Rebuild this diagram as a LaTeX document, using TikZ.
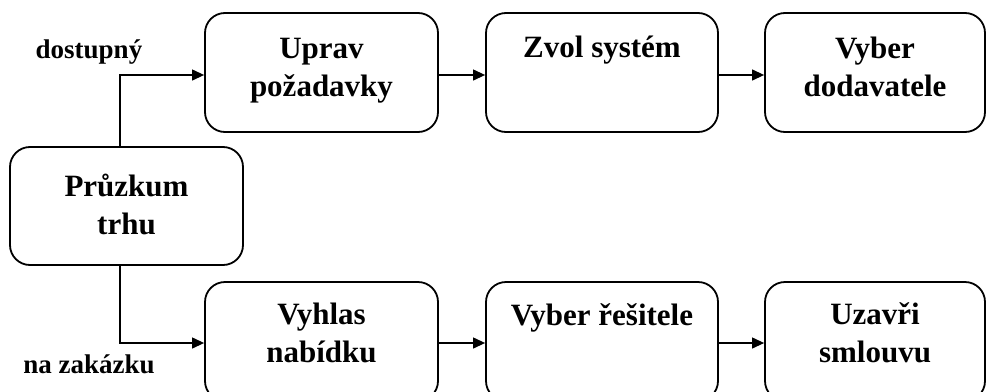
\documentclass[tikz,border=0pt]{standalone}
\usepackage{fontspec}
\setmainfont{Liberation Serif}
\usetikzlibrary{arrows.meta,calc}
\tikzset{
  stepbox/.style={draw, line width=1.8pt, rounded corners=20pt, inner sep=0pt},
  boxtext/.style={inner sep=0pt, align=center, font=\fontsize{31}{38}\selectfont\bfseries},
  lbl/.style={inner sep=0pt, anchor=base, font=\fontsize{27}{30}\selectfont\bfseries},
  flow/.style={line width=1.2pt, -{Triangle[length=12pt,width=11pt]}}
}
\begin{document}
\begin{tikzpicture}[x=1pt,y=-1pt]
\useasboundingbox (0,0) rectangle (987,391);
\clip (0,0) rectangle (987,391);

% process boxes
\node[stepbox, minimum width=233pt, minimum height=119pt] (uprav)  at (321.5,72.5) {};
\node[stepbox, minimum width=232pt, minimum height=119pt] (zvol)   at (602,72.5) {};
\node[stepbox, minimum width=220pt, minimum height=119pt] (dodav)  at (875,72.5) {};
\node[stepbox, minimum width=233pt, minimum height=118pt] (pruzkum) at (126.5,206) {};
\node[stepbox, minimum width=233pt, minimum height=119pt] (vyhlas) at (321.5,341.5) {};
\node[stepbox, minimum width=232pt, minimum height=119pt] (resit)  at (602,341.5) {};
\node[stepbox, minimum width=220pt, minimum height=119pt] (smlouva) at (875,341.5) {};

% box captions
\node[boxtext] (uprav-t)   at (321.5,69.4)  {\strut Uprav\\\strut požadavky};
\node[boxtext] (zvol-t)    at (602,49.4)    {\strut Zvol systém};
\node[boxtext] (dodav-t)   at (875,69.4)    {\strut Vyber\\\strut dodavatele};
\node[boxtext] (pruzkum-t) at (126.5,207.4) {\strut Průzkum\\\strut trhu};
\node[boxtext] (vyhlas-t)  at (321.5,335.4) {\strut Vyhlas\\\strut nabídku};
\node[boxtext] (resit-t)   at (602,317.4)   {\strut Vyber řešitele};
\node[boxtext] (smlouva-t) at (875,335.4)   {\strut Uzavři\\\strut smlouvu};

% branch labels
\node[lbl] (dost) at (89,58)  {dostupný};
\node[lbl] (zak)  at (89,373) {na zakázku};

% branching stem from the market survey
\coordinate (stem) at (120,206);
\draw[flow] (stem |- pruzkum.north) |- ([yshift=-2.5pt]uprav.west);
\draw[flow] (stem |- pruzkum.south) |- ([yshift=-1.5pt]vyhlas.west);

% sequential flows
\draw[flow] ([yshift=-2.5pt]uprav.east) -- ([yshift=-2.5pt]zvol.west);
\draw[flow] ([yshift=-2.5pt]zvol.east) -- ([yshift=-2.5pt]dodav.west);
\draw[flow] ([yshift=-1.5pt]vyhlas.east) -- ([yshift=-1.5pt]resit.west);
\draw[flow] ([yshift=-1.5pt]resit.east) -- ([yshift=-1.5pt]smlouva.west);
\end{tikzpicture}
\end{document}
